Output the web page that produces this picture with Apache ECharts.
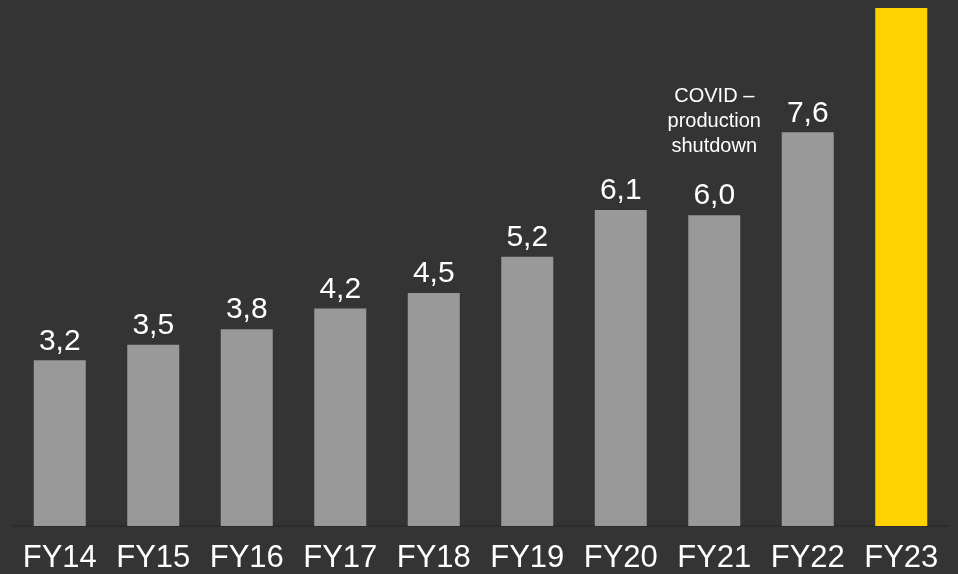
<!DOCTYPE html>
<html><head><meta charset="utf-8">
<script src="https://cdn.jsdelivr.net/npm/echarts@6/dist/echarts.min.js"></script>
<style>html,body{margin:0;padding:0;background:#353434;}#c{width:958px;height:574px;}</style>
</head><body><div id="c"></div>
<script>
const categories = ['FY14','FY15','FY16','FY17','FY18','FY19','FY20','FY21','FY22','FY23'];
const values = [3.2,3.5,3.8,4.2,4.5,5.2,6.1,6.0,7.6,10.0];
const labels = ['3,2','3,5','3,8','4,2','4,5','5,2','6,1','6,0','7,6',''];
const annotationIndex = 7;
const annotationText = 'COVID –\nproduction\nshutdown';

const chart = echarts.init(document.getElementById('c'));
const font = '"Liberation Sans", Arial, sans-serif';
chart.setOption({
  backgroundColor: '#353434',
  animation: false,
  grid: {left: 13, right: 10, top: 8, bottom: 48, containLabel: false},
  xAxis: {
    type: 'category', data: categories,
    axisLine: {show: true, lineStyle: {color: '#2a2a2a', width: 1.5}},
    axisTick: {show: false},
    axisLabel: {color: '#ffffff', fontSize: 31, fontFamily: font, margin: 17, interval: 0, hideOverlap: false}
  },
  yAxis: {type: 'value', min: 0, max: 10, show: false, splitLine: {show: false}},
  series: [{
    type: 'bar', barWidth: 52,
    data: values.map((v, i) => ({
      value: v,
      itemStyle: {color: i === values.length - 1 ? '#FFD100' : '#999999'}
    })),
    label: {
      show: true, position: 'top', distance: 4,
      color: '#ffffff', fontSize: 30, fontFamily: font,
      formatter: p => {
        const l = labels[p.dataIndex];
        if (p.dataIndex === annotationIndex) {
          return annotationText.split('\n').map(t => '{a|' + t + '}').join('\n') + '\n{v|' + l + '}';
        }
        return l;
      },
      rich: {
        a: {fontSize: 20, lineHeight: 25, color: '#ffffff', fontFamily: font, align: 'center'},
        v: {fontSize: 30, color: '#ffffff', fontFamily: font, padding: [22, 0, 0, 0], align: 'center'}
      }
    }
  }]
});
</script></body></html>
